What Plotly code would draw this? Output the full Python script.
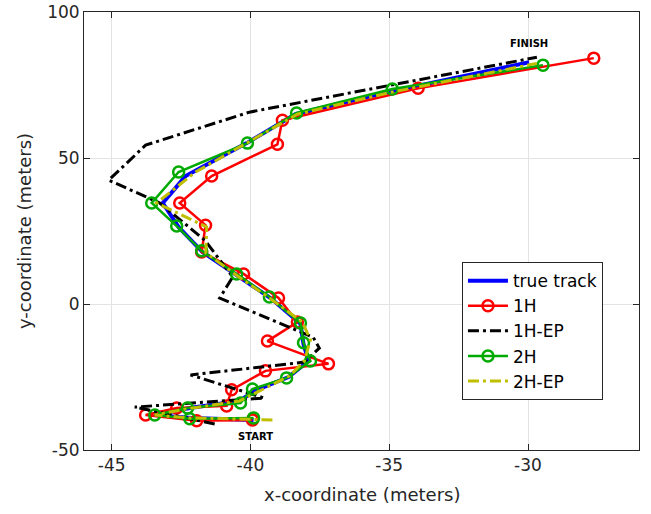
import plotly.graph_objects as go

# True track
true_x = [-39.89, -42.12, -43.45, -42.19, -40.40, -39.86, -38.63, -37.91, -38.09, -38.20,
          -39.28, -40.47, -41.73, -42.59, -43.16, -42.34, -40.14, -38.38, -34.89, -29.96]
true_y = [-39.7, -39.0, -38.0, -35.6, -33.2, -29.8, -25.0, -19.5, -13.7, -6.8,
          2.05, 9.9, 17.8, 26.3, 34.6, 43.8, 55.1, 65.0, 72.9, 82.8]

# 1H
h1_x = [-39.93, -41.94, -43.78, -42.66, -40.86, -40.68, -39.46, -37.19, -39.39, -38.31,
        -38.99, -40.25, -41.76, -41.62, -42.55, -41.40, -39.03, -38.85, -33.96, -27.63]
h1_y = [-39.7, -40.0, -38.0, -35.6, -34.9, -29.4, -22.9, -20.5, -12.7, -6.2,
        2.05, 10.3, 17.8, 27.0, 34.6, 43.8, 54.7, 62.9, 73.9, 84.2]

# 1H-EP
h1ep_x = [-41.29, -44.17, -39.50, -42.16, -38.06, -37.52, -37.74, -41.11, -40.64, -41.65,
          -43.27, -45.11, -43.78, -40.04, -29.68]
h1ep_y = [-41.1, -35.3, -32.2, -24.3, -19.9, -15.1, -11.4, 2.05, 9.25, 21.9,
          34.6, 42.4, 54.4, 65.7, 84.5]

# 2H
h2_x = [-39.89, -42.19, -43.45, -42.27, -40.36, -39.93, -38.70, -37.84, -38.09, -38.20,
        -39.32, -40.50, -41.76, -42.66, -43.56, -42.59, -40.11, -38.34, -34.89, -29.46]
h2_y = [-39.0, -39.3, -38.0, -35.6, -33.9, -29.1, -25.3, -19.5, -13.3, -6.5,
        2.4, 10.3, 18.2, 26.7, 34.6, 45.2, 55.1, 65.4, 73.6, 81.8]

# 2H-EP
h2ep_x = [-39.21, -42.16, -43.45, -42.34, -40.40, -39.75, -38.60, -38.06, -37.84, -38.13,
          -39.32, -40.47, -41.61, -41.58, -43.38, -41.98, -40.04, -38.31, -34.93, -29.68]
h2ep_y = [-39.7, -39.0, -38.0, -36.0, -33.2, -30.2, -24.7, -19.5, -12.3, -6.2,
          2.05, 9.6, 17.5, 26.4, 34.6, 45.2, 55.7, 65.0, 72.5, 82.4]

x_ticks = [-45, -40, -35, -30]
y_ticks = [-50, 0, 50, 100]

FONT = "DejaVu Sans"

fig = go.Figure()
fig.add_trace(go.Scatter(x=true_x, y=true_y, mode="lines", name="true track",
                         line=dict(color="#0000FF", width=4)))
fig.add_trace(go.Scatter(x=h1_x, y=h1_y, mode="lines+markers", name="1H",
                         line=dict(color="#FF0000", width=2.5),
                         marker=dict(symbol="circle-open", size=11, color="#FF0000",
                                     line=dict(width=2.5, color="#FF0000"))))
fig.add_trace(go.Scatter(x=h1ep_x, y=h1ep_y, mode="lines", name="1H-EP",
                         line=dict(color="#000000", width=3, dash="11px,4px,3px,4px")))
fig.add_trace(go.Scatter(x=h2_x, y=h2_y, mode="lines+markers", name="2H",
                         line=dict(color="#00AA00", width=2.5),
                         marker=dict(symbol="circle-open", size=11, color="#00AA00",
                                     line=dict(width=2.5, color="#00AA00"))))
fig.add_trace(go.Scatter(x=h2ep_x, y=h2ep_y, mode="lines", name="2H-EP",
                         line=dict(color="#BFBF00", width=3, dash="11px,4px,3px,4px")))

fig.add_annotation(x=-29.96, y=89.3, text="<b>FINISH</b>", showarrow=False,
                   font=dict(family=FONT, size=10, color="#000000"))
fig.add_annotation(x=-39.82, y=-45.5, text="<b>START</b>", showarrow=False,
                   font=dict(family=FONT, size=10, color="#000000"))

# Axis titles as annotations for exact placement
fig.add_annotation(xref="paper", yref="paper", x=0.5, y=-0.102, yanchor="middle",
                   text="x-coordinate (meters)", showarrow=False,
                   font=dict(family=FONT, size=18, color="#262626"))
fig.add_annotation(xref="paper", yref="paper", x=-0.108, y=0.5, xanchor="center",
                   text="y-coordinate (meters)", showarrow=False, textangle=-90,
                   font=dict(family=FONT, size=18, color="#262626"))

axis_common = dict(showgrid=True, gridcolor="#E3E3E3", gridwidth=1,
                   showline=True, linecolor="#262626", linewidth=1, mirror="ticks",
                   ticks="inside", ticklen=6, tickcolor="#262626", zeroline=False,
                   automargin=False, ticklabeloverflow="allow",
                   tickfont=dict(family=FONT, size=17, color="#262626"))

fig.update_layout(
    width=651, height=514,
    margin=dict(l=84, r=12, t=12, b=64),
    paper_bgcolor="white", plot_bgcolor="white",
    font=dict(family=FONT, color="#262626"),
    xaxis=dict(range=[-46, -26], tickvals=x_ticks, ticktext=[str(v) for v in x_ticks],
               **axis_common),
    yaxis=dict(range=[-50, 100], tickvals=y_ticks, ticktext=[str(v) for v in y_ticks],
               **axis_common),
    legend=dict(x=0.681, y=0.429, xanchor="left", yanchor="top",
                bgcolor="white", bordercolor="#262626", borderwidth=1,
                font=dict(family=FONT, size=17, color="#000000"),
                tracegroupgap=0, itemwidth=40),
    showlegend=True,
)

fig.write_html("out.html",
               config={"displayModeBar": False},
               post_script="document.body.style.margin='0px';document.body.style.overflow='hidden';")
